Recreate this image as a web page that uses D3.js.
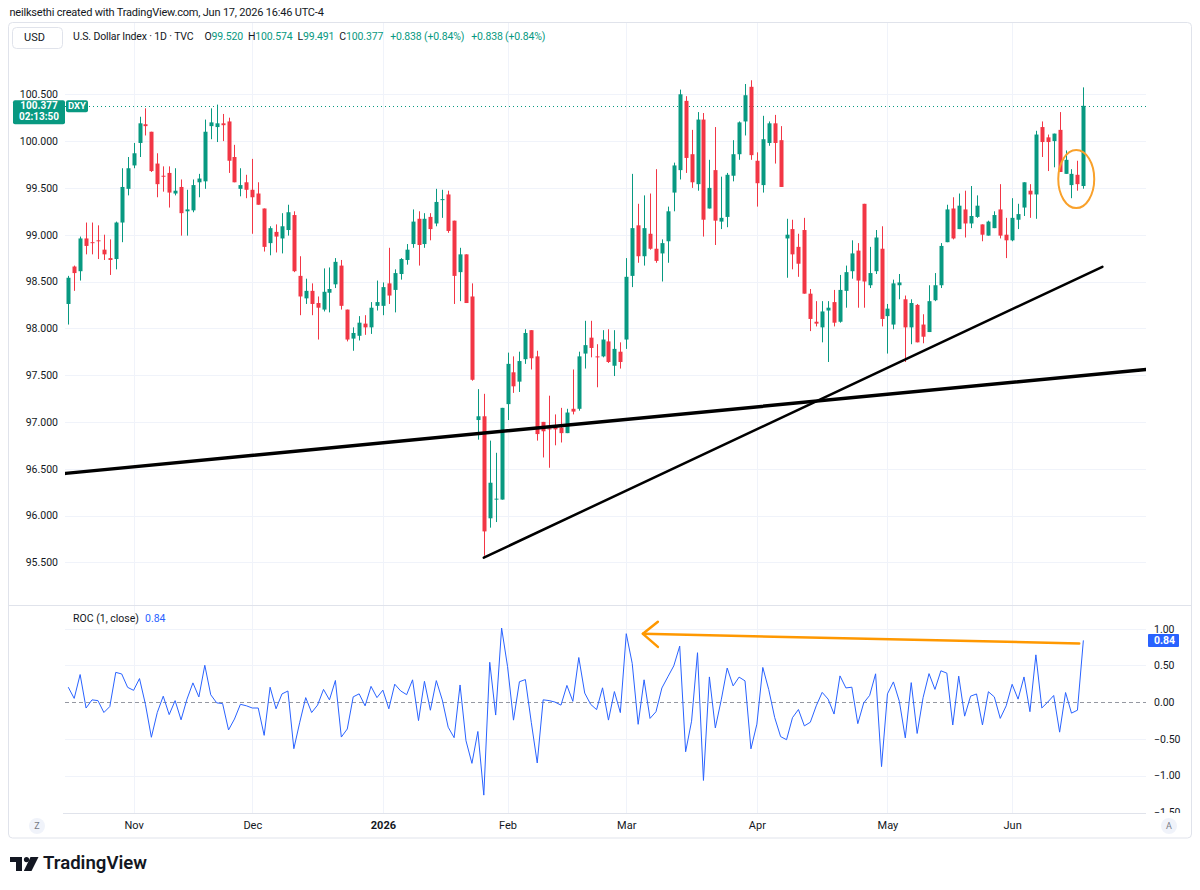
<!DOCTYPE html>
<html>
<head>
<meta charset="utf-8">
<script src="https://cdn.jsdelivr.net/npm/d3@7"></script>
<style>
  body { margin: 0; background: #fff; }
  text { font-family: Roboto, "Noto Sans", sans-serif; }
</style>
</head>
<body>
<div id="chart"></div>
<script>
// DXY daily candles, Oct 17 2025 -> Jun 17 2026
const opens = [
  98.26, 98.66, 98.61, 98.96, 98.92, 98.94, 98.84, 98.75, 98.74, 99.13,
  99.49, 99.74, 99.98, 100.18, 100.10, 99.76, 99.63, 99.66, 99.44, 99.51,
  99.25, 99.26, 99.56, 99.57, 100.16, 100.15, 100.19, 100.21, 99.83, 99.49,
  99.56, 99.48, 99.44, 99.28, 98.91, 99.03, 98.96, 99.05, 99.21, 98.56,
  98.32, 98.40, 98.27, 98.20, 98.38, 98.47, 98.67, 98.20, 97.89, 97.92,
  98.05, 98.01, 98.24, 98.24, 98.48, 98.41, 98.58, 98.73, 98.90, 99.17,
  98.90, 99.19, 99.12, 99.37, 99.43, 99.15, 98.60, 98.79, 98.34, 97.02,
  97.06, 95.97, 96.17, 96.17, 97.19, 97.53, 97.43, 97.67, 97.98, 97.70,
  97.00, 96.93, 96.96, 96.94, 96.88, 97.14, 97.14, 97.73, 97.90, 97.70,
  97.70, 97.86, 97.60, 97.75, 97.88, 98.56, 99.10, 98.77, 99.01, 98.85,
  98.80, 98.93, 99.45, 99.69, 100.43, 99.86, 99.54, 100.23, 99.28, 99.69,
  99.14, 99.19, 99.63, 99.86, 100.21, 100.58, 99.79, 99.53, 99.98, 100.19,
  100.01, 98.96, 99.06, 98.87, 99.05, 98.37, 98.07, 98.01, 98.19, 98.28,
  98.07, 98.40, 98.61, 98.83, 99.33, 98.46, 98.61, 98.85, 98.13, 98.04,
  98.46, 98.31, 98.01, 98.25, 98.04, 97.96, 98.30, 98.46, 98.92, 99.28,
  99.06, 99.27, 99.12, 99.19, 99.11, 98.99, 99.07, 99.27, 99.00, 98.94,
  99.16, 99.29, 99.47, 99.43, 100.15, 100.04, 100.00, 100.12, 99.65, 99.53,
  99.64, 99.520
];
const highs = [
  98.56, 98.67, 98.98, 99.13, 99.13, 99.10, 99.00, 98.95, 99.14, 99.71,
  99.83, 99.98, 100.26, 100.35, 100.10, 99.87, 99.73, 99.73, 99.71, 99.59,
  99.48, 99.59, 99.65, 100.23, 100.35, 100.39, 100.29, 100.25, 99.96, 99.71,
  99.64, 99.81, 99.56, 99.28, 99.09, 99.11, 99.23, 99.32, 99.25, 98.77,
  98.53, 98.48, 98.34, 98.64, 98.65, 98.75, 98.73, 98.20, 98.01, 98.13,
  98.14, 98.28, 98.51, 98.49, 98.86, 98.63, 98.75, 98.90, 99.27, 99.25,
  99.23, 99.23, 99.49, 99.48, 99.47, 99.15, 98.86, 98.79, 98.48, 97.35,
  97.30, 96.80, 96.67, 97.15, 97.74, 97.70, 97.75, 97.99, 97.98, 97.76,
  97.00, 97.28, 97.08, 97.15, 97.14, 97.56, 97.75, 98.08, 98.08, 97.83,
  97.98, 97.99, 97.98, 97.85, 98.75, 99.65, 99.33, 99.42, 99.44, 99.70,
  98.95, 99.30, 99.77, 100.55, 100.48, 100.12, 100.31, 100.30, 99.80, 100.15,
  99.62, 99.66, 100.01, 100.21, 100.61, 100.65, 99.88, 100.27, 100.21, 100.28,
  100.16, 99.17, 99.16, 99.01, 99.18, 98.42, 98.29, 98.29, 98.29, 98.41,
  98.57, 98.67, 98.94, 98.91, 99.33, 98.87, 99.05, 99.09, 98.26, 98.52,
  98.58, 98.35, 98.31, 98.26, 98.15, 98.46, 98.59, 98.91, 99.32, 99.40,
  99.44, 99.47, 99.52, 99.42, 99.11, 99.15, 99.25, 99.54, 99.18, 99.39,
  99.33, 99.56, 99.54, 100.11, 100.21, 100.07, 100.08, 100.31, 99.90, 99.70,
  99.79, 100.574
];
const lows = [
  98.04, 98.40, 98.51, 98.79, 98.79, 98.74, 98.73, 98.57, 98.63, 98.92,
  99.42, 99.71, 99.83, 100.06, 99.67, 99.40, 99.46, 99.29, 99.42, 98.99,
  98.99, 99.24, 99.40, 99.49, 100.02, 99.99, 100.00, 99.66, 99.56, 99.41,
  99.39, 99.01, 99.32, 98.82, 98.78, 98.81, 98.80, 98.99, 98.60, 98.14,
  98.26, 98.14, 97.88, 98.18, 98.17, 98.43, 98.20, 97.86, 97.76, 97.87,
  97.93, 97.94, 98.19, 98.14, 98.26, 98.17, 98.52, 98.68, 98.86, 98.67,
  98.86, 98.94, 99.09, 99.18, 99.02, 98.26, 98.29, 98.27, 97.44, 96.81,
  95.57, 95.87, 95.93, 96.17, 97.02, 97.31, 97.32, 97.62, 97.56, 96.80,
  96.62, 96.51, 96.75, 96.78, 96.88, 97.08, 97.12, 97.57, 97.69, 97.37,
  97.69, 97.63, 97.49, 97.57, 97.78, 98.44, 98.70, 98.67, 98.84, 98.70,
  98.50, 98.70, 99.25, 99.59, 99.66, 99.50, 99.47, 98.98, 99.28, 98.89,
  99.06, 99.08, 99.57, 99.80, 100.06, 99.80, 99.30, 99.45, 99.95, 99.76,
  99.51, 98.54, 98.63, 98.55, 98.37, 97.97, 98.02, 97.85, 97.64, 98.02,
  98.06, 98.22, 98.53, 98.22, 98.22, 98.43, 98.58, 98.02, 97.73, 97.99,
  98.31, 97.64, 97.83, 97.85, 97.84, 97.96, 98.29, 98.43, 98.92, 98.95,
  99.06, 98.97, 99.07, 99.18, 98.93, 98.99, 99.07, 98.96, 98.75, 98.93,
  99.06, 99.20, 99.18, 99.17, 99.83, 99.68, 99.72, 99.67, 99.65, 99.39,
  99.47, 99.491
];
const closes = [
  98.54, 98.59, 98.96, 98.88, 98.91, 98.93, 98.79, 98.73, 99.13, 99.51,
  99.71, 99.87, 100.19, 100.16, 99.68, 99.54, 99.62, 99.45, 99.47, 99.23,
  99.27, 99.53, 99.60, 100.10, 100.20, 100.19, 100.17, 99.79, 99.56, 99.53,
  99.48, 99.40, 99.32, 98.87, 99.07, 98.98, 99.09, 99.24, 98.61, 98.34,
  98.40, 98.26, 98.22, 98.39, 98.42, 98.71, 98.24, 97.88, 97.95, 98.06,
  98.01, 98.22, 98.28, 98.44, 98.35, 98.59, 98.74, 98.84, 99.14, 98.89,
  99.17, 99.06, 99.35, 99.38, 99.04, 98.56, 98.79, 98.27, 97.45, 97.06,
  95.83, 96.35, 96.18, 97.15, 97.62, 97.38, 97.65, 97.95, 97.68, 96.87,
  96.90, 96.92, 96.92, 96.88, 97.10, 97.11, 97.70, 97.82, 97.79, 97.69,
  97.88, 97.64, 97.78, 97.64, 98.55, 99.07, 98.77, 99.07, 98.85, 98.72,
  98.91, 99.25, 99.74, 100.50, 99.82, 99.56, 100.23, 99.16, 99.50, 99.15,
  99.18, 99.64, 99.86, 100.20, 100.49, 99.85, 99.55, 100.02, 100.19, 99.98,
  99.51, 99.00, 98.79, 98.69, 98.37, 98.10, 98.05, 98.18, 98.22, 98.06,
  98.41, 98.60, 98.80, 98.51, 98.50, 98.59, 98.97, 98.10, 98.21, 98.48,
  98.49, 98.01, 98.27, 97.85, 97.91, 98.29, 98.46, 98.88, 99.27, 98.96,
  99.31, 99.12, 99.20, 99.31, 99.00, 99.14, 99.21, 98.99, 98.94, 99.18,
  99.22, 99.56, 99.43, 100.07, 99.99, 99.99, 100.08, 99.67, 99.80, 99.65,
  99.54, 100.377
];
const prevClose = 98.34;   // close of the bar before the first one shown

// axis labels
const monthLabels = ["Nov", "Dec", "2026", "Feb", "Mar", "Apr", "May", "Jun"];
const monthIndex = [11, 31, 53, 74, 94, 116, 138, 159];
const priceTicks = [95.5, 96, 96.5, 97, 97.5, 98, 98.5, 99, 99.5, 100, 100.5];
const rocTicks = [1, 0.5, 0, -0.5, -1, -1.5];

// hand drawings, in bar index / price units
const trendLines = [
  {i1: -0.44, p1: 96.45, i2: 181.55, p2: 97.561, w: 3.5},
  {i1: 70, p1: 95.55, i2: 174.2, p2: 98.657, w: 2.5}
];
const ellipseMark = {i: 169.8, p: 99.594, di: 3.03, dp: 0.31};
const arrowMark = {i1: 170.3, r1: 0.80, i2: 96.8, r2: 0.93};

class dxyChart {
    constructor(parentElement) {
        this.parentElement = parentElement;
        this.up = "#089981";
        this.down = "#f23645";
        this.grid = "#f0f3fa";
        this.ink = "#131722";
    }

    initViz() {
        let vis = this;

        vis.width = 1200;
        vis.height = 890;
        vis.plotL = 65;
        vis.plotR = 1146;
        vis.mainTop = 23;
        vis.mainBot = 605.5;
        vis.rocBot = 813;

        vis.svg = d3.select("#" + vis.parentElement).append("svg")
            .attr("width", vis.width)
            .attr("height", vis.height);

        vis.x = d3.scaleLinear().domain([-0.55, 181.55]).range([vis.plotL, vis.plotR]);
        vis.y = d3.scaleLinear().domain([95.5, 100.5]).range([562.3, 94.3]);
        vis.yr = d3.scaleLinear().domain([-1.5, 1]).range([812.2, 628.7]);

        let defs = vis.svg.append("defs");
        defs.append("clipPath").attr("id", "clipMain").append("rect")
            .attr("x", vis.plotL).attr("y", vis.mainTop)
            .attr("width", vis.plotR - vis.plotL).attr("height", vis.mainBot - vis.mainTop);
        defs.append("clipPath").attr("id", "clipRoc").append("rect")
            .attr("x", vis.plotL).attr("y", vis.mainBot)
            .attr("width", vis.plotR - vis.plotL).attr("height", vis.rocBot - vis.mainBot);
        defs.append("clipPath").attr("id", "clipRocAxis").append("rect")
            .attr("x", vis.plotR).attr("y", vis.mainBot)
            .attr("width", 50).attr("height", vis.rocBot - vis.mainBot);

        vis.wrangleData();
    }

    wrangleData() {
        let vis = this;
        vis.displayData = closes.map((c, i) => ({
            i: i, o: opens[i], h: highs[i], l: lows[i], c: c
        }));
        // ROC(1, close) in percent
        vis.roc = closes.map((c, i) => (c / (i === 0 ? prevClose : closes[i - 1]) - 1) * 100);
        vis.updateViz();
    }

    updateViz() {
        let vis = this;
        let x = vis.x, y = vis.y, yr = vis.yr;

        // header line
        vis.svg.append("text")
            .attr("x", 9.5).attr("y", 13)
            .attr("dominant-baseline", "middle")
            .attr("font-size", "11px")
            .attr("letter-spacing", "-0.2px")
            .attr("fill", vis.ink)
            .text("neilksethi created with TradingView.com, Jun 17, 2026 16:46 UTC-4");

        // frame
        vis.svg.append("rect")
            .attr("x", 8.5).attr("y", 22.5)
            .attr("width", 1183).attr("height", 815.5)
            .attr("rx", 4)
            .attr("fill", "none")
            .attr("stroke", "#e0e3eb");

        // vertical month grid
        vis.svg.append("g").selectAll("line")
            .data(monthIndex)
            .enter().append("line")
            .attr("x1", d => Math.round(x(d)) + 0.5).attr("x2", d => Math.round(x(d)) + 0.5)
            .attr("y1", vis.mainTop).attr("y2", vis.rocBot)
            .attr("stroke", vis.grid);

        // horizontal price grid
        vis.svg.append("g").selectAll("line")
            .data(priceTicks)
            .enter().append("line")
            .attr("x1", vis.plotL).attr("x2", vis.plotR)
            .attr("y1", d => Math.round(y(d)) + 0.5).attr("y2", d => Math.round(y(d)) + 0.5)
            .attr("stroke", vis.grid);

        // horizontal roc grid
        vis.svg.append("g").selectAll("line")
            .data(rocTicks.filter(d => d !== 0 && d > -1.5))
            .enter().append("line")
            .attr("x1", vis.plotL).attr("x2", vis.plotR)
            .attr("y1", d => Math.round(yr(d)) + 0.5).attr("y2", d => Math.round(yr(d)) + 0.5)
            .attr("stroke", vis.grid);

        // pane separator and time axis border
        vis.svg.append("line")
            .attr("x1", 8.5).attr("x2", 1191.5)
            .attr("y1", vis.mainBot).attr("y2", vis.mainBot)
            .attr("stroke", "#e0e3eb");
        vis.svg.append("line")
            .attr("x1", 63).attr("x2", vis.plotR)
            .attr("y1", vis.rocBot + 0.5).attr("y2", vis.rocBot + 0.5)
            .attr("stroke", "#e0e3eb");

        // legend row
        vis.svg.append("rect")
            .attr("x", 12.5).attr("y", 27.5)
            .attr("width", 50).attr("height", 21).attr("rx", 4)
            .attr("fill", "#fff").attr("stroke", "#e0e3eb");
        vis.svg.append("text")
            .attr("x", 24).attr("y", 38.5)
            .attr("dominant-baseline", "middle")
            .attr("font-size", "11px").attr("fill", vis.ink)
            .text("USD");

        let legendParts = [
            ["U.S. Dollar Index · 1D · TVC", vis.ink, 0],
            ["O", vis.ink, 11], ["99.520", vis.up, 0],
            ["H", vis.ink, 5], ["100.574", vis.up, 0],
            ["L", vis.ink, 5], ["99.491", vis.up, 0],
            ["C", vis.ink, 5], ["100.377", vis.up, 0],
            ["+0.838 (+0.84%)", vis.up, 7],
            ["+0.838 (+0.84%)", vis.up, 7]
        ];
        vis.svg.append("text")
            .attr("x", 73).attr("y", 37)
            .attr("dominant-baseline", "middle")
            .attr("font-size", "10.5px")
            .attr("letter-spacing", "-0.15px")
            .selectAll("tspan")
            .data(legendParts)
            .enter().append("tspan")
            .attr("dx", d => d[2])
            .attr("fill", d => d[1])
            .text(d => d[0]);

        // price axis (left)
        let yAxis = vis.svg.append("g")
            .attr("transform", "translate(60,0)")
            .call(d3.axisLeft(y).tickValues(priceTicks).tickFormat(d3.format(".3f")).tickSize(0).tickPadding(2));
        yAxis.select(".domain").remove();
        yAxis.selectAll("text")
            .attr("font-family", "Roboto, sans-serif")
            .attr("font-size", "10.5px")
            .attr("fill", vis.ink);

        // roc axis (right)
        let rAxis = vis.svg.append("g")
            .attr("clip-path", "url(#clipRocAxis)")
            .append("g")
            .attr("transform", "translate(1154,0)")
            .call(d3.axisRight(yr).tickValues(rocTicks).tickFormat(d3.format(".2f")).tickSize(0).tickPadding(0));
        rAxis.select(".domain").remove();
        rAxis.selectAll("text")
            .attr("font-family", "Roboto, sans-serif")
            .attr("font-size", "10.5px")
            .attr("fill", vis.ink);

        // time axis
        let xAxis = vis.svg.append("g")
            .attr("transform", "translate(0," + vis.rocBot + ")")
            .call(d3.axisBottom(x).tickValues(monthIndex).tickFormat((d, i) => monthLabels[i]).tickSize(0).tickPadding(8));
        xAxis.select(".domain").remove();
        xAxis.selectAll("text")
            .attr("font-family", "Roboto, sans-serif")
            .attr("font-size", "11px")
            .attr("fill", vis.ink)
            .attr("font-weight", (d, i) => monthLabels[i] === "2026" ? 700 : 400);

        // candles
        let main = vis.svg.append("g").attr("clip-path", "url(#clipMain)");

        // close price line
        let last = vis.displayData[vis.displayData.length - 1];
        main.append("line")
            .attr("x1", vis.plotL).attr("x2", vis.plotR)
            .attr("y1", Math.round(y(last.c)) + 0.5).attr("y2", Math.round(y(last.c)) + 0.5)
            .attr("stroke", vis.up)
            .attr("stroke-dasharray", "1,3");

        let candle = main.selectAll(".candle")
            .data(vis.displayData)
            .enter().append("g")
            .attr("class", "candle");

        candle.append("line")
            .attr("x1", d => Math.round(x(d.i)) + 0.5).attr("x2", d => Math.round(x(d.i)) + 0.5)
            .attr("y1", d => y(d.h)).attr("y2", d => y(d.l))
            .attr("stroke", d => d.c >= d.o ? vis.up : vis.down)
            .attr("stroke-width", 1);

        candle.append("rect")
            .attr("x", d => Math.round(x(d.i)) - 1.5)
            .attr("width", 4)
            .attr("y", d => y(Math.max(d.o, d.c)))
            .attr("height", d => Math.max(1, Math.abs(y(d.o) - y(d.c))))
            .attr("fill", d => d.c >= d.o ? vis.up : vis.down);

        // trend lines
        main.selectAll(".trend")
            .data(trendLines)
            .enter().append("line")
            .attr("class", "trend")
            .attr("x1", d => x(d.i1)).attr("y1", d => y(d.p1))
            .attr("x2", d => x(d.i2)).attr("y2", d => y(d.p2))
            .attr("stroke", "#000")
            .attr("stroke-width", d => d.w)
            .attr("stroke-linecap", "round");

        // ellipse around last bars
        main.append("ellipse")
            .attr("cx", x(ellipseMark.i)).attr("cy", y(ellipseMark.p))
            .attr("rx", x(ellipseMark.i + ellipseMark.di) - x(ellipseMark.i))
            .attr("ry", y(ellipseMark.p - ellipseMark.dp) - y(ellipseMark.p))
            .attr("fill", "none")
            .attr("stroke", "#f9a12b")
            .attr("stroke-width", 2);

        // left price label for last close
        let ly = y(last.c);
        vis.svg.append("rect")
            .attr("x", 13).attr("y", ly - 5.5)
            .attr("width", 52).attr("height", 24).attr("rx", 2)
            .attr("fill", vis.up);
        vis.svg.append("text")
            .attr("x", 39).attr("y", ly + 0.5)
            .attr("text-anchor", "middle").attr("dominant-baseline", "middle")
            .attr("font-size", "10px").attr("font-weight", 700).attr("fill", "#fff")
            .text(d3.format(".3f")(last.c));
        vis.svg.append("text")
            .attr("x", 39).attr("y", ly + 12)
            .attr("text-anchor", "middle").attr("dominant-baseline", "middle")
            .attr("font-size", "10px").attr("font-weight", 700).attr("fill", "#fff")
            .text("02:13:50");
        vis.svg.append("rect")
            .attr("x", 66).attr("y", ly - 5.5)
            .attr("width", 22).attr("height", 12).attr("rx", 2)
            .attr("fill", vis.up);
        vis.svg.append("text")
            .attr("x", 77).attr("y", ly + 0.5)
            .attr("text-anchor", "middle").attr("dominant-baseline", "middle")
            .attr("font-size", "9.5px").attr("font-weight", 700).attr("fill", "#fff")
            .text("DXY");

        // ROC pane
        let rocG = vis.svg.append("g").attr("clip-path", "url(#clipRoc)");

        rocG.append("line")
            .attr("x1", vis.plotL).attr("x2", vis.plotR)
            .attr("y1", Math.round(yr(0)) + 0.5).attr("y2", Math.round(yr(0)) + 0.5)
            .attr("stroke", "#9598a1")
            .attr("stroke-dasharray", "4,3");

        let rocLine = d3.line()
            .x((d, i) => x(i))
            .y(d => yr(d));

        rocG.append("path")
            .datum(vis.roc)
            .attr("d", rocLine)
            .attr("fill", "none")
            .attr("stroke", "#2962ff")
            .attr("stroke-width", 1);

        // orange arrow
        let ax1 = x(arrowMark.i1), ay1 = yr(arrowMark.r1);
        let ax2 = x(arrowMark.i2), ay2 = yr(arrowMark.r2);
        rocG.append("line")
            .attr("x1", ax1).attr("y1", ay1).attr("x2", ax2).attr("y2", ay2)
            .attr("stroke", "#ff9800").attr("stroke-width", 2.5)
            .attr("stroke-linecap", "round");
        rocG.append("path")
            .attr("d", "M" + (ax2 + 15) + "," + (ay2 - 12) + "L" + ax2 + "," + ay2 + "L" + (ax2 + 15) + "," + (ay2 + 13))
            .attr("fill", "none")
            .attr("stroke", "#ff9800").attr("stroke-width", 2.5)
            .attr("stroke-linecap", "round").attr("stroke-linejoin", "round");

        // roc legend
        let lastRoc = vis.roc[vis.roc.length - 1];
        let rl = vis.svg.append("text")
            .attr("x", 73).attr("y", 619)
            .attr("dominant-baseline", "middle")
            .attr("font-size", "10.5px");
        rl.append("tspan").attr("fill", vis.ink).text("ROC (1, close)");
        rl.append("tspan").attr("fill", "#2962ff").attr("dx", 6).text(d3.format(".2f")(lastRoc));

        // roc last value label
        vis.svg.append("rect")
            .attr("x", 1148).attr("y", yr(lastRoc) - 6.5)
            .attr("width", 31).attr("height", 13).attr("rx", 1)
            .attr("fill", "#2962ff");
        vis.svg.append("text")
            .attr("x", 1154).attr("y", yr(lastRoc) + 0.5)
            .attr("dominant-baseline", "middle")
            .attr("font-size", "10.5px").attr("font-weight", 700).attr("fill", "#fff")
            .text(d3.format(".2f")(lastRoc));

        // scale buttons
        let btn = vis.svg.append("g").selectAll("g")
            .data([{x: 37, t: "Z"}, {x: 1169, t: "A"}])
            .enter().append("g");
        btn.append("circle")
            .attr("cx", d => d.x).attr("cy", 826).attr("r", 8)
            .attr("fill", "#f0f3fa");
        btn.append("text")
            .attr("x", d => d.x).attr("y", 826.5)
            .attr("text-anchor", "middle").attr("dominant-baseline", "middle")
            .attr("font-size", "9px").attr("fill", "#787b86")
            .text(d => d.t);

        // TradingView logo
        let logo = vis.svg.append("g").attr("transform", "translate(10,857)").attr("fill", vis.ink);
        logo.append("path").attr("d", "M0,0H12V14H6V5H0Z");
        logo.append("circle").attr("cx", 16.5).attr("cy", 2.6).attr("r", 2.6);
        logo.append("path").attr("d", "M20.5,0H28.5L21.5,14H13.8Z");
        vis.svg.append("text")
            .attr("x", 43).attr("y", 864)
            .attr("dominant-baseline", "middle")
            .attr("font-family", "Inter, Roboto, sans-serif")
            .attr("font-size", "19px").attr("font-weight", 600)
            .attr("fill", vis.ink)
            .attr("textLength", 104).attr("lengthAdjust", "spacingAndGlyphs")
            .text("TradingView");
    }
}

let chart = new dxyChart("chart");
chart.initViz();
</script>
</body>
</html>
